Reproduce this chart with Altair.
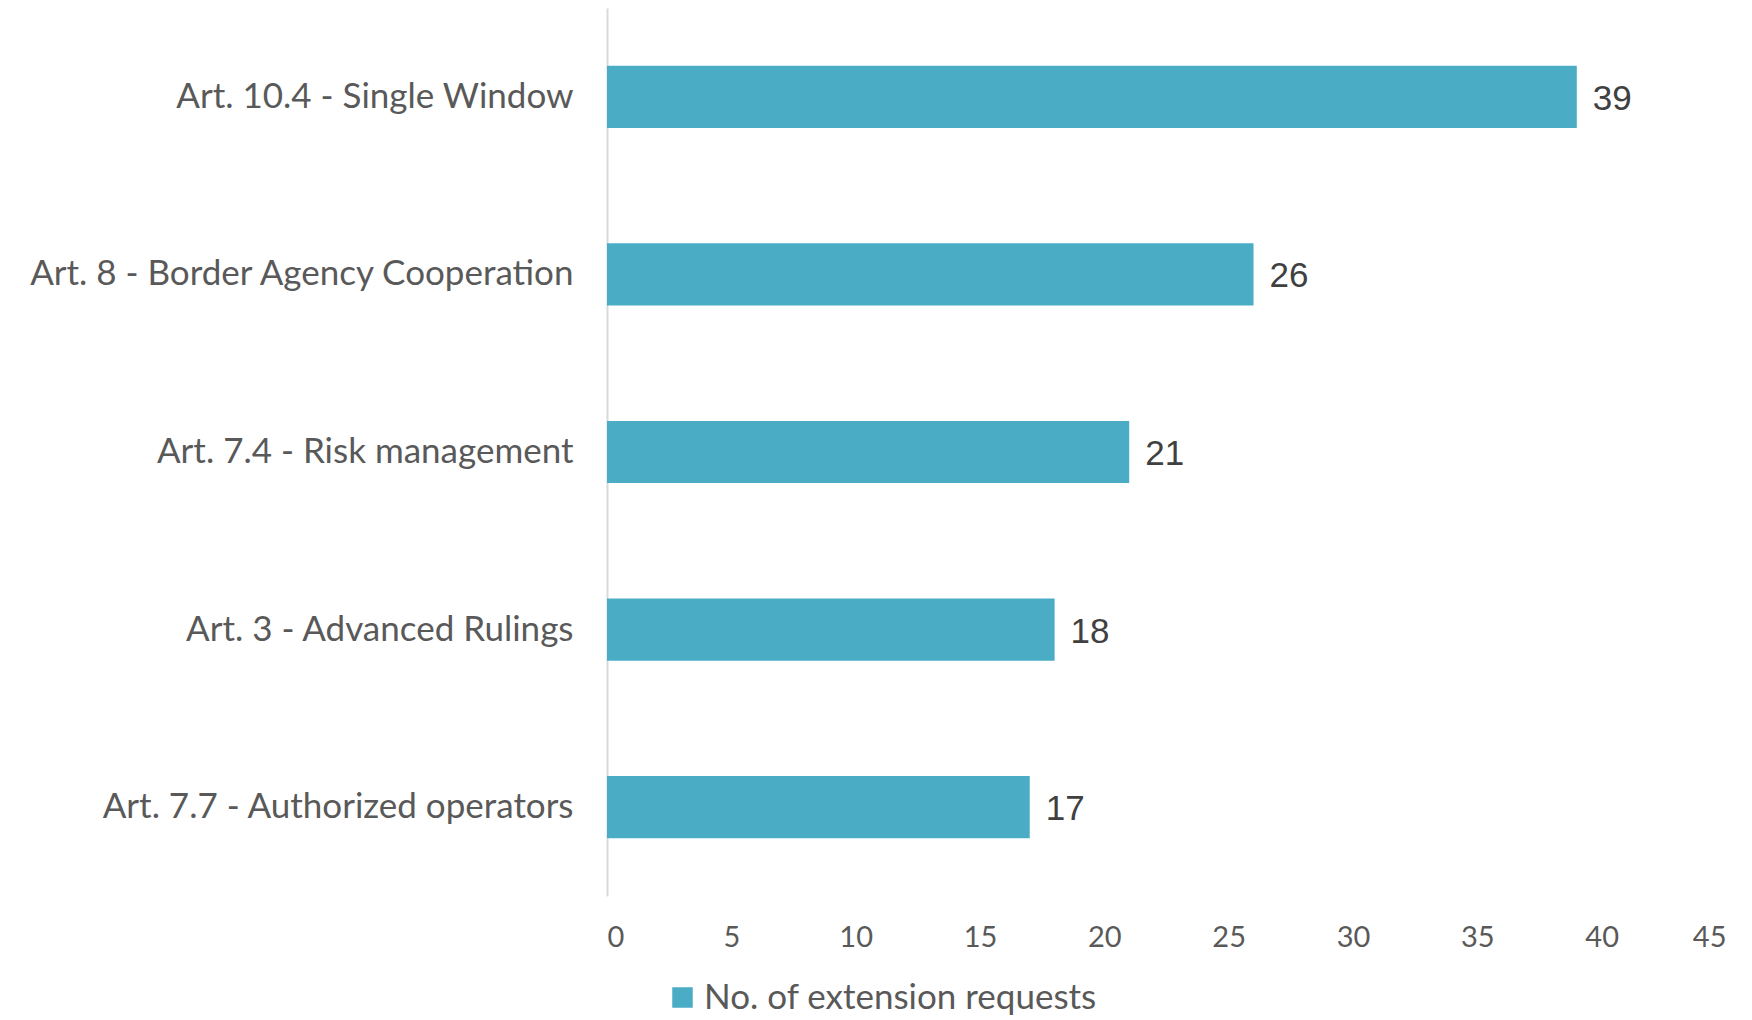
import altair as alt
import pandas as pd

categories = [
    "Art. 10.4 - Single Window",
    "Art. 8 - Border Agency Cooperation",
    "Art. 7.4 - Risk management",
    "Art. 3 - Advanced Rulings",
    "Art. 7.7 - Authorized operators",
]
values = [39, 26, 21, 18, 17]
series_name = "No. of extension requests"
x_ticks = [0, 5, 10, 15, 20, 25, 30, 35, 40, 45]

df = pd.DataFrame({"category": categories, "value": values, "series": [series_name] * len(values)})

bar_color = "#4BACC6"

base = alt.Chart(df).encode(
    y=alt.Y(
        "category:N",
        sort=categories,
        scale=alt.Scale(paddingInner=0.65, paddingOuter=0.325),
        axis=alt.Axis(
            title=None,
            labelFont="Lato",
            labelFontSize=35,
            labelColor="#595959",
            labelPadding=34,
            ticks=False,
            domain=True,
            domainColor="#D9D9D9",
            domainWidth=2,
            minExtent=599,
            maxExtent=599,
            labelLimit=700,
        ),
    ),
)

bars = base.mark_bar(color=bar_color).encode(
    x=alt.X(
        "value:Q",
        scale=alt.Scale(domain=[0, 45], nice=False),
        axis=alt.Axis(
            title=None,
            values=x_ticks,
            labelFont="Lato",
            labelFontSize=29,
            labelColor="#595959",
            labelPadding=27,
            ticks=False,
            domain=False,
            grid=False,
        ),
    ),
    color=alt.Color(
        "series:N",
        scale=alt.Scale(domain=[series_name], range=[bar_color]),
        legend=alt.Legend(
            title=None,
            orient="none",
            legendX=58,
            legendY=972,
            labelFont="Lato",
            labelFontSize=35,
            labelColor="#595959",
            labelLimit=800,
            symbolType="square",
            symbolSize=420,
            symbolStrokeWidth=0,
        ),
    ),
)

labels = base.mark_text(
    align="left", baseline="middle", dx=16, dy=2, font="Liberation Sans", fontSize=35, color="#404040"
).encode(x="value:Q", text="value:Q")

chart = (
    (bars + labels)
    .properties(width=1119, height=888, padding=0)
    .configure_view(stroke=None)
)

chart.save("out.html", embed_options={"renderer": "svg", "actions": False})
